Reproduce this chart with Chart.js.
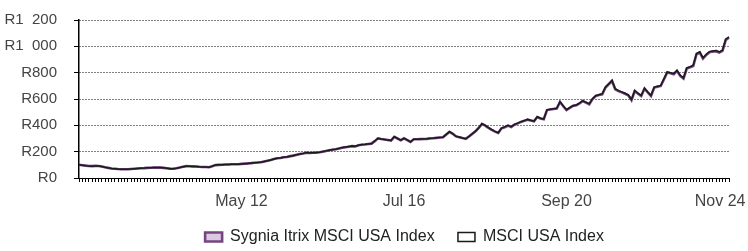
<!DOCTYPE html>
<html>
<head>
<meta charset="utf-8">
<script src="https://cdn.jsdelivr.net/npm/chart.js@4"></script>
<style>
  html, body { margin: 0; padding: 0; background: #fff; }
  #wrap { width: 748px; height: 251px; position: relative; }
</style>
</head>
<body>
<div id="wrap"><canvas id="myChart"></canvas></div>
<script>
// monthly, Mar 2008 .. Nov 2024
const monthNames = ['Jan', 'Feb', 'Mar', 'Apr', 'May', 'Jun', 'Jul', 'Aug', 'Sep', 'Oct', 'Nov', 'Dec'];
const months = [];
for (let i = 0; i < 201; i++) {
    const m = (2 + i) % 12;
    const y = 8 + Math.floor((2 + i) / 12);
    months.push(monthNames[m] + ' ' + String(y).padStart(2, '0'));
}
const shownLabels = ['May 12', 'Jul 16', 'Sep 20', 'Nov 24'];

const yTicks = [0, 200, 400, 600, 800, 1000, 1200];

const sygnia = [
    100, 97, 94, 91, 90, 92, 91, 88, 82, 77,
    72, 70, 68, 67, 67, 66, 68, 70, 72, 74,
    75, 77, 78, 79, 80, 79, 77, 74, 71, 70,
    74, 79, 85, 90, 89, 88, 87, 85, 84, 83,
    82, 90, 98, 100, 101, 102, 103, 104, 104, 105,
    107, 109, 111, 113, 116, 118, 120, 126, 131, 136,
    144, 150, 152, 157, 160, 166, 170, 176, 182, 186,
    192, 190, 192, 193, 195, 200, 205, 210, 215, 218,
    224, 230, 234, 238, 242, 240, 248, 253, 255, 258,
    261, 280, 301, 296, 292, 288, 284, 312, 300, 286,
    301, 288, 274, 294, 294, 295, 296, 297, 300, 302,
    305, 307, 309, 330, 350, 336, 316, 310, 303, 297,
    315, 335, 354, 380, 411, 398, 380, 365, 352, 342,
    377, 386, 398, 388, 405, 415, 426, 434, 443, 436,
    430, 463, 452, 446, 516, 520, 524, 527, 577, 545,
    516, 532, 547, 552, 566, 585, 572, 560, 600, 623,
    630, 636, 687, 712, 737, 674, 660, 650, 640, 628,
    592, 661, 640, 623, 679, 650, 623, 687, 693, 699,
    750, 801, 795, 788, 813, 775, 755, 831, 840, 851,
    940, 953, 907, 935, 955, 960, 963, 953, 965, 1049, 1066
];
const msci = [
    100, 97, 94, 92, 90, 92, 91, 88, 82, 77,
    72, 70, 68, 67, 66, 66, 68, 70, 72, 74,
    75, 77, 78, 79, 80, 79, 77, 74, 71, 70,
    74, 79, 85, 90, 89, 88, 87, 85, 84, 83,
    82, 90, 98, 100, 101, 102, 103, 104, 105, 105,
    107, 109, 111, 114, 116, 118, 121, 126, 131, 137,
    144, 150, 153, 157, 161, 166, 171, 176, 182, 187,
    193, 191, 192, 194, 196, 201, 206, 211, 216, 219,
    225, 231, 235, 239, 243, 241, 249, 254, 256, 259,
    262, 281, 302, 297, 293, 289, 285, 313, 301, 287,
    302, 289, 275, 295, 295, 296, 297, 298, 301, 303,
    306, 308, 310, 331, 352, 337, 317, 311, 304, 298,
    316, 336, 356, 382, 413, 400, 382, 367, 354, 344,
    379, 388, 400, 390, 407, 417, 428, 436, 445, 438,
    432, 465, 454, 448, 518, 522, 526, 530, 580, 548,
    519, 535, 550, 555, 569, 588, 575, 563, 603, 626,
    633, 640, 691, 716, 741, 678, 664, 654, 644, 632,
    596, 665, 644, 627, 683, 654, 627, 691, 697, 703,
    755, 806, 800, 793, 818, 780, 760, 836, 845, 856,
    945, 958, 912, 940, 960, 965, 968, 958, 970, 1054, 1071
];

const textColor = '#444';
const fontFamily = '"Liberation Sans", Arial, sans-serif';
const nbsp = '\u00a0';

const ctx = document.getElementById('myChart').getContext('2d');

// legend sits right of centre in the original
const legendShift = {
    id: 'legendShift',
    afterLayout: (chart) => {
        const lg = chart.legend;
        lg.left += 40;
        lg.right += 40;
        lg.top += 4;
        lg.bottom += 4;
    }
};

const myChart = new Chart(ctx, {
    type: 'line',
    data: {
        labels: months,
        datasets: [{
            label: 'Sygnia Itrix MSCI USA Index',
            data: sygnia,
            borderColor: '#74457f',
            backgroundColor: '#dcc8e2',
            borderWidth: 2.6,
            pointRadius: 0,
            tension: 0,
            order: 1
        }, {
            label: 'MSCI USA Index',
            data: msci,
            borderColor: '#1a1a1a',
            backgroundColor: '#ffffff',
            borderWidth: 1.5,
            pointRadius: 0,
            tension: 0,
            order: 0
        }]
    },
    options: {
        responsive: true,
        maintainAspectRatio: false,
        animation: false,
        layout: {
            padding: { top: 20, right: 19, left: 0, bottom: 0 }
        },
        plugins: {
            tooltip: { enabled: false },
            legend: {
                position: 'bottom',
                labels: {
                    color: '#222',
                    font: { family: fontFamily, size: 16 },
                    boxWidth: 17,
                    boxHeight: 9,
                    padding: 10,
                    sort: (a, b) => a.datasetIndex - b.datasetIndex,
                    generateLabels: (chart) => {
                        const items = Chart.defaults.plugins.legend.labels.generateLabels(chart);
                        items.forEach(it => {
                            if (it.datasetIndex === 0) it.text = it.text + nbsp.repeat(3);
                        });
                        return items;
                    }
                }
            }
        },
        scales: {
            y: {
                min: 0,
                max: 1200,
                afterBuildTicks: (scale) => {
                    scale.ticks = yTicks.map(v => ({ value: v }));
                },
                afterFit: (scale) => {
                    scale.width = 79;
                    scale.paddingTop = 0;
                    scale.paddingBottom = 0;
                },
                ticks: {
                    color: textColor,
                    font: { family: fontFamily, size: 15 },
                    padding: 17,
                    callback: function (value) {
                        if (value >= 1000) {
                            return 'R' + Math.floor(value / 1000) + nbsp + nbsp + String(value % 1000).padStart(3, '0');
                        }
                        return 'R' + value;
                    }
                },
                grid: {
                    color: '#000',
                    lineWidth: 1,
                    tickLength: 5
                },
                border: {
                    display: true,
                    color: '#000',
                    width: 1.5,
                    dash: [1, 2]
                }
            },
            x: {
                afterFit: (scale) => {
                    scale.height = 37;
                    scale.paddingRight = 0;
                    scale.paddingLeft = 0;
                },
                ticks: {
                    color: textColor,
                    font: { family: fontFamily, size: 16 },
                    autoSkip: false,
                    maxRotation: 0,
                    padding: 10,
                    callback: function (value) {
                        const lab = this.getLabelForValue(value);
                        if (!shownLabels.includes(lab)) return '';
                        // last label is pulled back inside the canvas
                        return value === months.length - 1 ? lab + nbsp.repeat(4) : lab;
                    }
                },
                grid: {
                    drawOnChartArea: false,
                    color: '#000',
                    tickLength: 4
                },
                border: {
                    display: true,
                    color: '#000',
                    width: 1
                }
            }
        }
    },
    plugins: [legendShift]
});
</script>
</body>
</html>
